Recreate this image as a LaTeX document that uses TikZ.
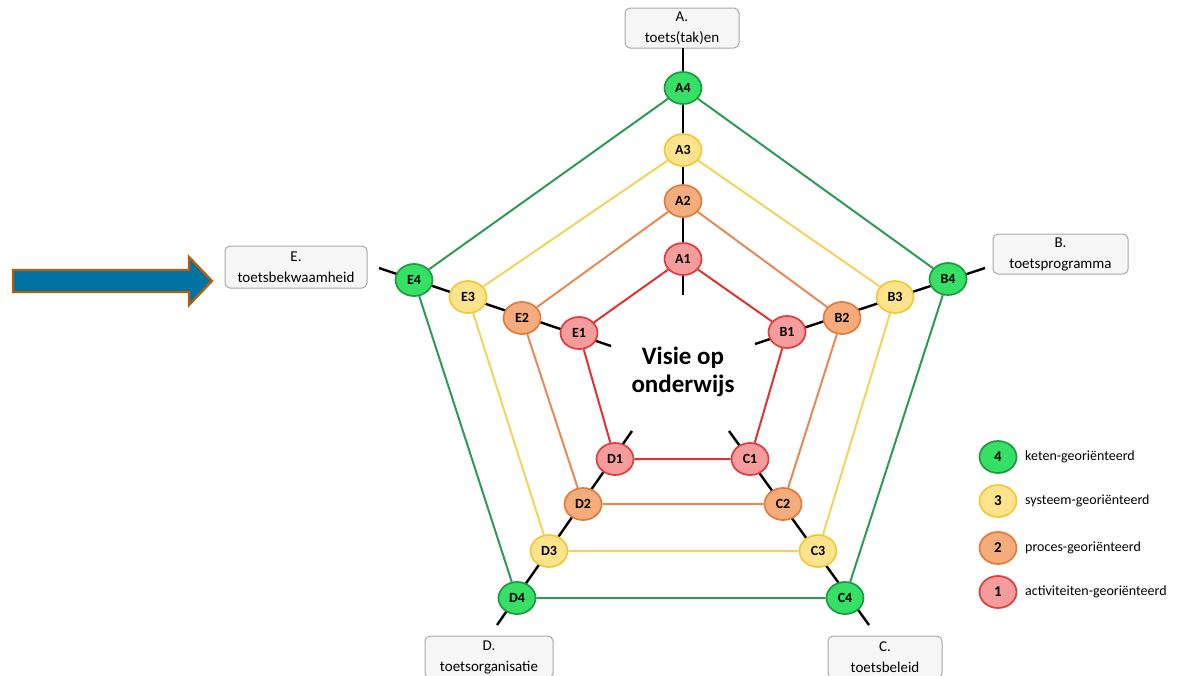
\documentclass[tikz,border=0pt]{standalone}
\usepackage{fontspec}
\setmainfont{Carlito}
\usetikzlibrary{shapes.geometric}
\definecolor{gfill}{HTML}{36E065}
\definecolor{gdraw}{HTML}{1E9A40}
\definecolor{gline}{HTML}{2E9A55}
\definecolor{yfill}{HTML}{FCE38C}
\definecolor{ydraw}{HTML}{F0C83A}
\definecolor{yline}{HTML}{F2D45A}
\definecolor{ofill}{HTML}{F5AC7C}
\definecolor{odraw}{HTML}{E07C3C}
\definecolor{oline}{HTML}{E48A52}
\definecolor{rfill}{HTML}{F79C9C}
\definecolor{rdraw}{HTML}{E03C3C}
\definecolor{rline}{HTML}{DD3333}
\definecolor{boxfill}{HTML}{F6F6F6}
\definecolor{boxdraw}{HTML}{A8A8A8}
\definecolor{arrblue}{HTML}{0072A3}
\definecolor{arrbrown}{HTML}{B3600C}
\tikzset{
  lvl/.style={ellipse, minimum width=37pt, minimum height=32pt, inner sep=0pt, line width=1.7pt, font=\fontsize{14}{14}\selectfont\bfseries},
  lv4/.style={lvl, fill=gfill, draw=gdraw},
  lv3/.style={lvl, fill=yfill, draw=ydraw},
  lv2/.style={lvl, fill=ofill, draw=odraw},
  lv1/.style={lvl, fill=rfill, draw=rdraw},
  spoke/.style={line width=2.4pt, black},
  ring4/.style={line width=2pt, gline},
  ring3/.style={line width=2pt, yline},
  ring2/.style={line width=2pt, oline},
  ring1/.style={line width=2pt, rline},
  labbox/.style={draw=boxdraw, fill=boxfill, rounded corners=5pt, line width=1pt, align=center, font=\fontsize{15}{21}\selectfont, inner sep=0pt},
  legtxt/.style={anchor=west, font=\fontsize{14}{14}\selectfont, inner sep=0pt},
  legnum/.style={minimum width=37pt, minimum height=32pt, font=\fontsize{15}{15}\selectfont\bfseries}
}
\begin{document}
\begin{tikzpicture}[x=1pt,y=-1pt]
\useasboundingbox (0,0) rectangle (1182,675);
% label boxes
\node[labbox, minimum width=114pt, minimum height=40pt] (LA) at (682,28) {A.\\toets(tak)en};
\node[labbox, minimum width=135pt, minimum height=40pt] (LB) at (1060.5,254) {B.\\toetsprogramma};
\node[labbox, minimum width=114pt, minimum height=42pt] (LC) at (885,657) {C.\\toetsbeleid};
\node[labbox, minimum width=128pt, minimum height=42pt] (LD) at (489,657) {D.\\toetsorganisatie};
\node[labbox, minimum width=142pt, minimum height=42pt] (LE) at (296,267) {E.\\toetsbekwaamheid};
% spoke ends
\coordinate (Ain) at (683,295);
\coordinate (Bin) at (755,344);
\coordinate (Cin) at (729,431);
\coordinate (Din) at (632,431);
\coordinate (Ein) at (611,346);
\coordinate (Aout) at (683,48);
\coordinate (Bout) at (985,268);
\coordinate (Cout) at (869,625);
\coordinate (Dout) at (497,625);
\coordinate (Eout) at (379,268);
\draw[spoke] (Ain) -- (Aout);
\draw[spoke] (Bin) -- (Bout);
\draw[spoke] (Cin) -- (Cout);
\draw[spoke] (Din) -- (Dout);
\draw[spoke] (Ein) -- (Eout);
% nodes
\node[lv4] (A4) at (683,88) {A4};
\node[lv3] (A3) at (683,150) {A3};
\node[lv2] (A2) at (683,201) {A2};
\node[lv1] (A1) at (683,259) {A1};
\node[lv4] (B4) at (948,279) {B4};
\node[lv3] (B3) at (895,297) {B3};
\node[lv2] (B2) at (842,318) {B2};
\node[lv1] (B1) at (787,332) {B1};
\node[lv4] (C4) at (845,598) {C4};
\node[lv3] (C3) at (818,551) {C3};
\node[lv2] (C2) at (783,504) {C2};
\node[lv1] (C1) at (750,459) {C1};
\node[lv4] (D4) at (517,598) {D4};
\node[lv3] (D3) at (549,551) {D3};
\node[lv2] (D2) at (583,504) {D2};
\node[lv1] (D1) at (615,459) {D1};
\node[lv4] (E4) at (414,280) {E4};
\node[lv3] (E3) at (468,297) {E3};
\node[lv2] (E2) at (522,318) {E2};
\node[lv1] (E1) at (579,333) {E1};
% rings
\draw[ring4] (A4) -- (B4) -- (C4) -- (D4) -- (E4) -- (A4);
\draw[ring3] (A3) -- (B3) -- (C3) -- (D3) -- (E3) -- (A3);
\draw[ring2] (A2) -- (B2) -- (C2) -- (D2) -- (E2) -- (A2);
\draw[ring1] (A1) -- (B1) -- (C1) -- (D1) -- (E1) -- (A1);
% center
\node[align=center, font=\fontsize{25}{28}\selectfont\bfseries, inner sep=0pt] (V) at (683,372) {Visie op\\onderwijs};
% arrow
\draw[fill=arrblue, draw=arrbrown, line width=2.4pt, line join=miter]
  (13,270) -- (189,270) -- (189,257) -- (212,281) -- (189,305) -- (189,292) -- (13,292) -- cycle;
% legend
\node[lv4, legnum] (L4) at (998,457) {4};
\node[lv3, legnum] (L3) at (998,501) {3};
\node[lv2, legnum] (L2) at (998,548) {2};
\node[lv1, legnum] (L1) at (998,592) {1};
\node[legtxt] (T4) at (1025,457) {keten-georiënteerd};
\node[legtxt] (T3) at (1025,501) {systeem-georiënteerd};
\node[legtxt] (T2) at (1025,548) {proces-georiënteerd};
\node[legtxt] (T1) at (1025,592) {activiteiten-georiënteerd};
\end{tikzpicture}
\end{document}
